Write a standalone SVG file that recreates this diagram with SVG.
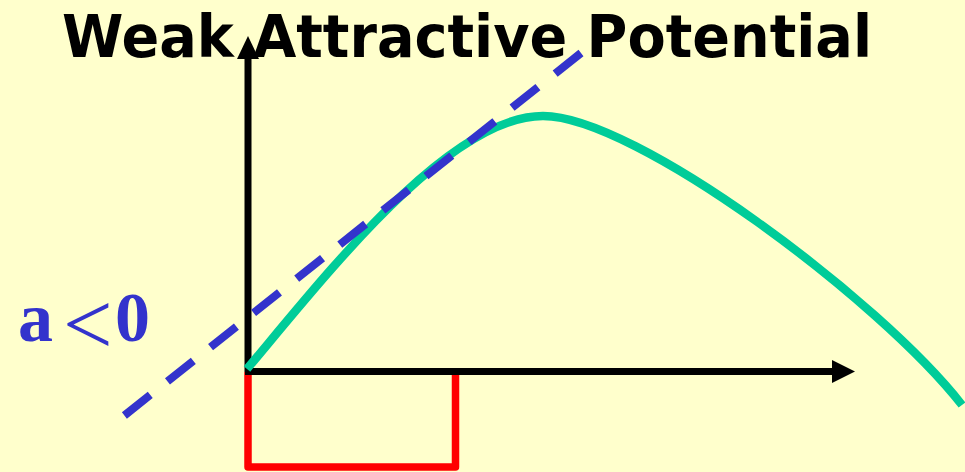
<svg xmlns="http://www.w3.org/2000/svg" width="965" height="472" viewBox="0 0 965 472">
  <style>
    .title { font-family: "DejaVu Sans", "Liberation Sans", sans-serif; font-weight: bold; font-size: 58px; fill: #000000; }
    .label { font-family: "Liberation Serif", "Times New Roman", serif; font-size: 70px; fill: #3333CC; }
    .axis { stroke: #000000; stroke-width: 7; fill: none; }
    .arrowhead { fill: #000000; }
    .well { stroke: #FF0000; stroke-width: 7.5; fill: none; stroke-linejoin: round; }
    .wave { stroke: #00CC99; stroke-width: 8.5; fill: none; }
    .tangent { stroke: #3333CC; stroke-width: 8; fill: none; stroke-dasharray: 33 22; }
  </style>
  <rect x="0" y="0" width="965" height="472" fill="#FFFFCC"/>

  <g id="title">
    <text class="title" x="62" y="57" textLength="810" lengthAdjust="spacingAndGlyphs">Weak Attractive Potential</text>
  </g>

  <g id="label-a">
    <text class="label" x="18" y="341"><tspan font-weight="bold">a</tspan><tspan x="63" y="354" font-size="88">&lt;</tspan><tspan x="115" y="341" font-weight="bold">0</tspan></text>
  </g>

  <g id="potential-well">
    <path class="well" d="M248,372 V467 H455.5 V372"/>
  </g>

  <g id="connectors">
    <g id="y-axis">
      <line class="axis" x1="248" y1="372" x2="248" y2="56"/>
      <polygon class="arrowhead" points="248,36 237,59 259,59"/>
    </g>
    <g id="x-axis">
      <line class="axis" x1="245" y1="371.5" x2="834" y2="371.5"/>
      <polygon class="arrowhead" points="855,371.5 832,360 832,383"/>
    </g>
  </g>

  <g id="wavefunction">
    <path class="wave" d="M247,369 C330,270 450,116 543,116 C635,116 880,300 962,405"/>
  </g>

  <g id="tangent-line">
    <line class="tangent" x1="581" y1="53" x2="120" y2="419"/>
  </g>
</svg>
